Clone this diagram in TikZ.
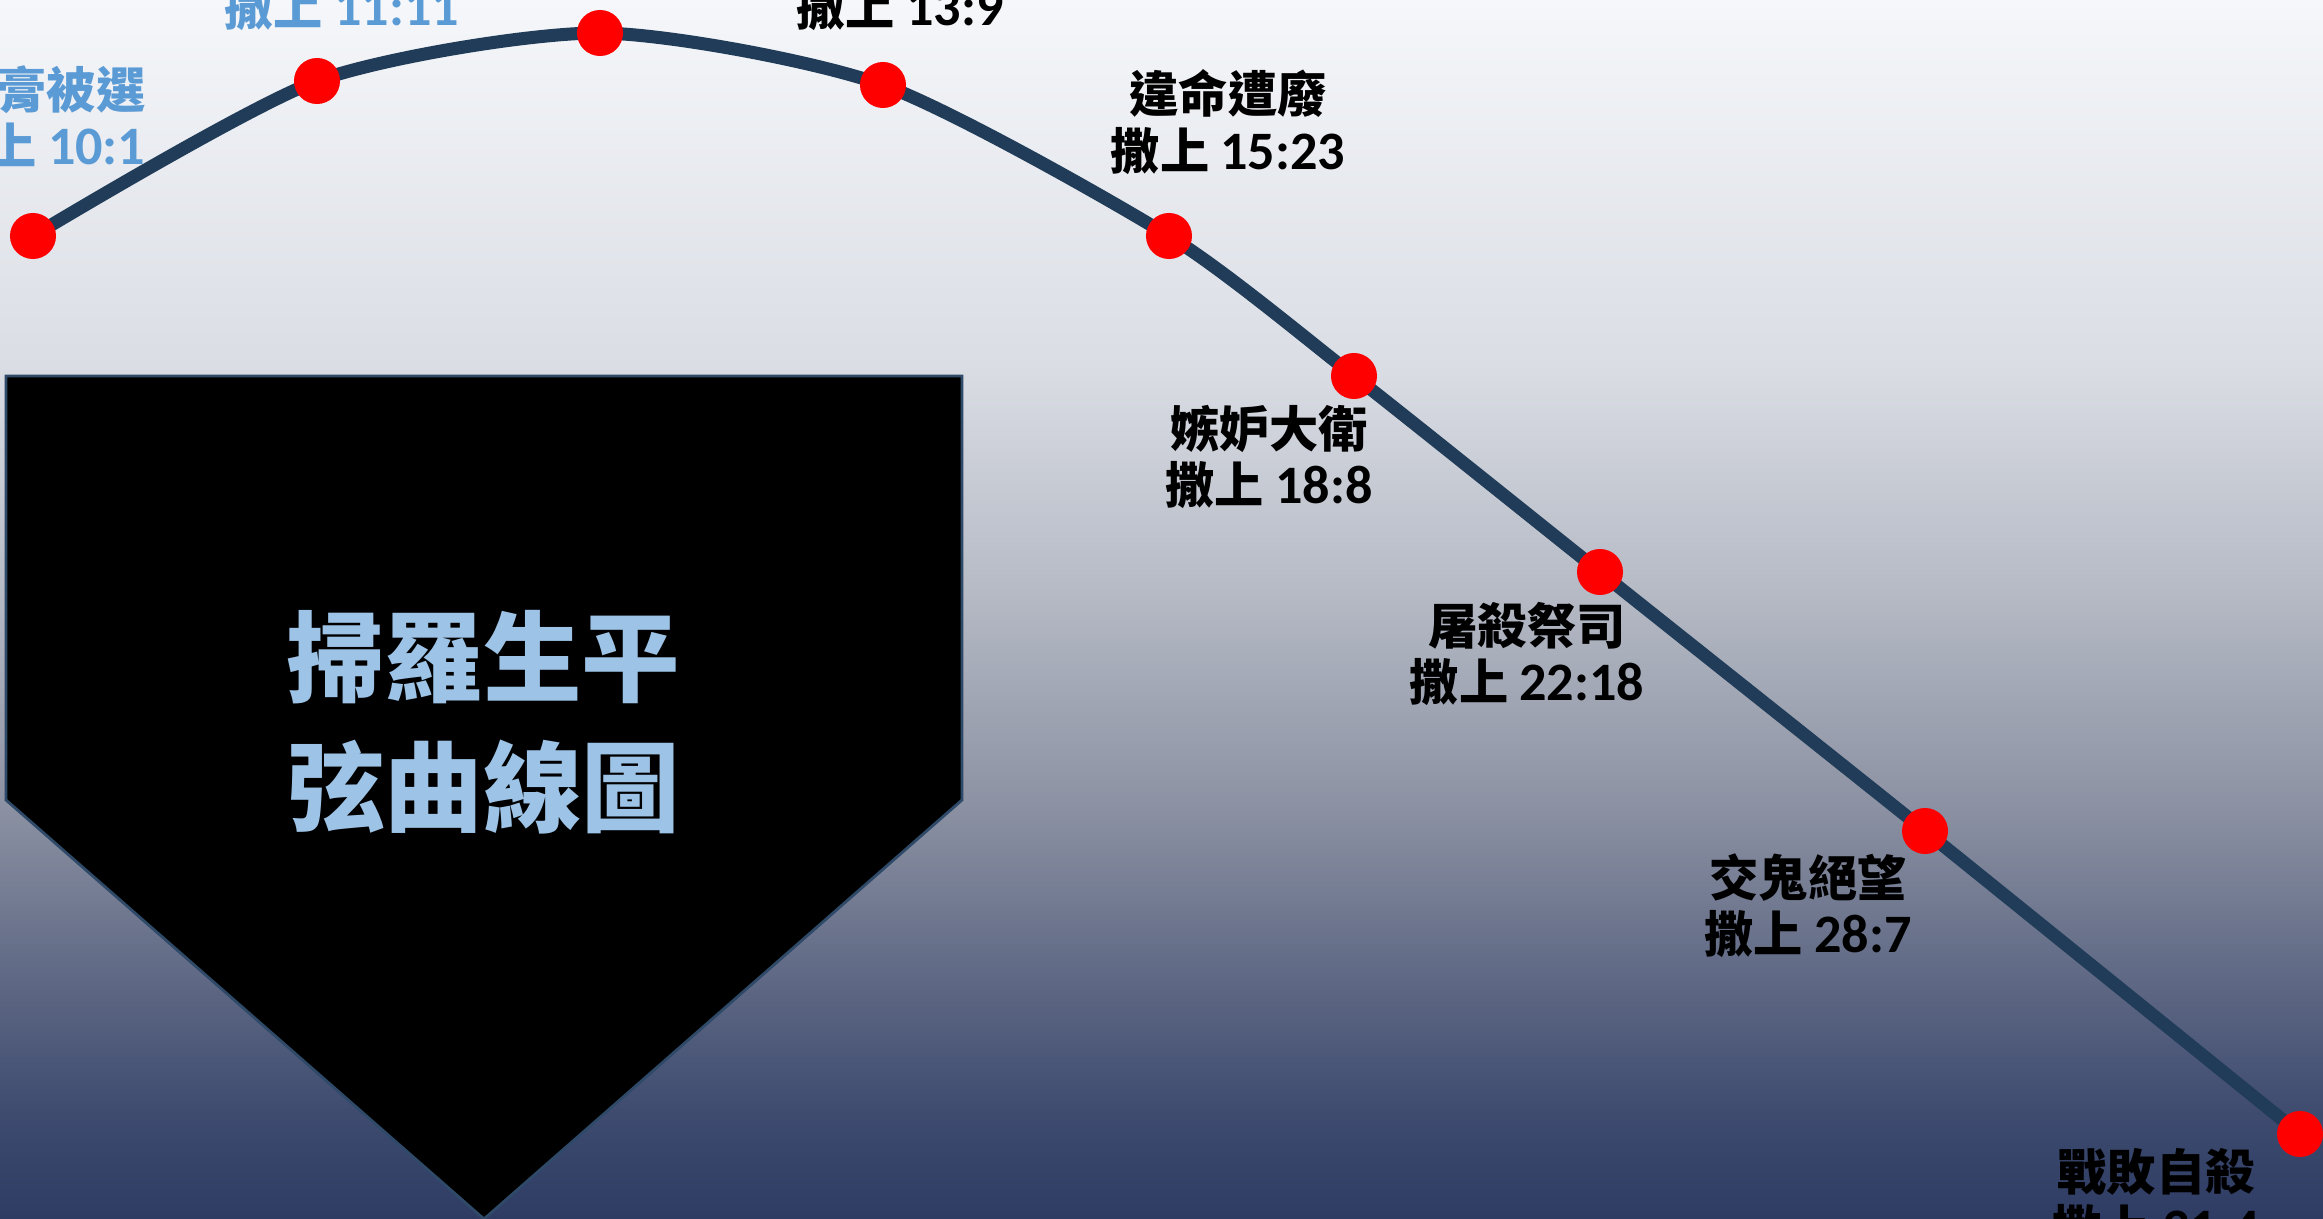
\documentclass[tikz,border=0pt]{standalone}
\usepackage{fontspec}
\setmainfont{Noto Sans CJK TC}
\newfontfamily\numfont{Carlito}[BoldFont={* Bold},Scale=1.1]
\usetikzlibrary{positioning}
\definecolor{curvecol}{HTML}{203C58}
\definecolor{dotred}{HTML}{FF0000}
\definecolor{lblblue}{HTML}{5B9BD5}
\definecolor{titleblue}{HTML}{9DC3E6}
\definecolor{edgecol}{HTML}{2F4A68}
\definecolor{bgA}{HTML}{2E3B63}
\definecolor{bgB}{HTML}{3F4C70}
\definecolor{bgC}{HTML}{636C87}
\definecolor{bgD}{HTML}{8C92A3}
\definecolor{bgE}{HTML}{B4B9C4}
\definecolor{bgF}{HTML}{DADDE4}
\definecolor{bgG}{HTML}{F5F7FA}
\pgfdeclareverticalshading{bgshade}{100bp}{color(0bp)=(bgA); color(25bp)=(bgA); color(29.5bp)=(bgB); color(35.5bp)=(bgC); color(42bp)=(bgD); color(50.5bp)=(bgE); color(60bp)=(bgF); color(75bp)=(bgG); color(100bp)=(bgG)}
\newcommand{\samref}[2]{#1 {\numfont\bfseries #2}}
\tikzset{
  dot/.style={circle,fill=dotred,inner sep=0pt,minimum size=0.46cm},
  lbl/.style={font=\bfseries\fontsize{14}{16}\selectfont,align=center,inner sep=0pt},
  curve/.style={curvecol,line width=3.7pt}
}
\begin{document}
\begin{tikzpicture}[x=0.01cm,y=-0.01cm]
  \useasboundingbox (0,0) rectangle (2323,1219);
  \clip (0,0) rectangle (2323,1219);
  \shade[shading=bgshade] (0,0) rectangle (2323,1219);
  % title shield
  \draw[fill=black,draw=edgecol,line width=0.8pt] (6,376) -- (962,376) -- (962,800) -- (484,1219) -- (6,800) -- cycle;
  \node[font=\bfseries\fontsize{28}{37}\selectfont,text=titleblue,align=center] (title) at (483,722) {掃羅生平\\弦曲線圖};
  % points on the curve
  \coordinate (p1) at (33,236);
  \coordinate (p2) at (317,81);
  \coordinate (p3) at (600,33);
  \coordinate (p4) at (883,85);
  \coordinate (p5) at (1169,236);
  \coordinate (p6) at (1354,376);
  \coordinate (p7) at (1600,572);
  \coordinate (p8) at (1925,831);
  \coordinate (p9) at (2300,1134);
  \draw[curve] plot[smooth,tension=0.42] coordinates {(p1) (p2) (p3) (p4) (p5) (p6) (p7) (p8) (p9)};
  \foreach \i in {1,...,9}
    \node[dot] (d\i) at (p\i) {};
  % labels
  \node[lbl,text=lblblue,align=right,anchor=east] (l1) at (146,116) {膏被選\\\samref{上}{10:1}};
  \node[lbl,text=lblblue] (l2) at (342,7) {\samref{撒上}{11:11}};
  \node[lbl] (l4) at (900,7) {\samref{撒上}{13:9}};
  \node[lbl] (l5) at (1228,122) {違命遭廢\\\samref{撒上}{15:23}};
  \node[lbl] (l6) at (1269,457) {嫉妒大衛\\\samref{撒上}{18:8}};
  \node[lbl] (l7) at (1527,654) {屠殺祭司\\\samref{撒上}{22:18}};
  \node[lbl] (l8) at (1808,906) {交鬼絕望\\\samref{撒上}{28:7}};
  \node[lbl] (l9) at (2156,1200) {戰敗自殺\\\samref{撒上}{31:4}};
\end{tikzpicture}
\end{document}
